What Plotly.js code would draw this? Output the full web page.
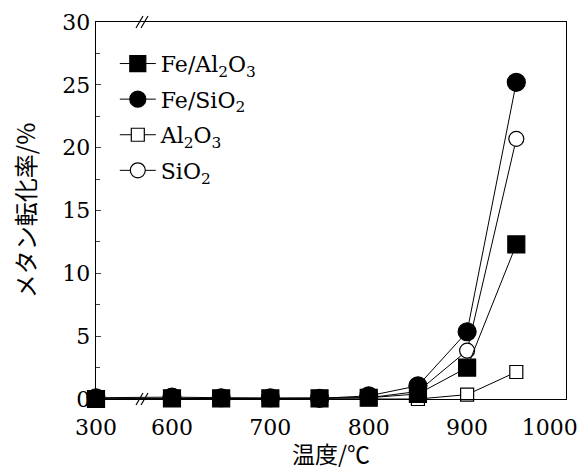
<!DOCTYPE html>
<html><head><meta charset="utf-8">
<script src="https://cdn.plot.ly/plotly-3.0.1.min.js"></script>
<style>body{margin:0;background:#fff}</style>
</head><body>
<div id="chart" style="width:584px;height:470px"></div>
<script>
// Temperatures (°C)
const temps = [300, 600, 650, 700, 750, 800, 850, 900, 950];
// Methane conversion (%)
const feAl2O3 = [0.0, 0.05, 0.05, 0.05, 0.05, 0.1, 0.4, 2.5, 12.3];
const feSiO2  = [0.1, 0.15, 0.1, 0.1, 0.05, 0.25, 1.05, 5.35, 25.2];
const al2O3   = [0.0, 0.0, 0.0, 0.0, 0.0, 0.0, 0.0, 0.35, 2.15];
const siO2    = [0.0, 0.05, 0.05, 0.05, 0.05, 0.1, 0.6, 3.85, 20.7];
const xTickLabels = ['300', '600', '700', '800', '900', '1000'];
const xTickTemps = [300, 600, 700, 800, 900, 1000];

// broken axis: 300 is drawn just left of 600
const BREAK_POS = 522.8;
function axisX(t) { return t === 300 ? BREAK_POS : t; }
const xs = temps.map(axisX);
const tickPos = xTickTemps.map(t => t === 1000 ? 984 : axisX(t));

const serif = 'DejaVu Serif, serif';
function tr(name, y, symbol, filled, size, rank) {
  return {
    x: xs, y: y, name: name, type: 'scatter', mode: 'lines+markers',
    cliponaxis: false, legendrank: rank, legendgroup: 'g' + rank,
    line: {color: '#000', width: 1},
    marker: {symbol: symbol, size: size, color: filled ? '#000' : '#fff',
             line: {color: '#000', width: 1.2}}
  };
}
const data = [
  tr('Al<sub>2</sub>O<sub>3</sub>', al2O3, 'square', false, 13, 3),
  tr('SiO<sub>2</sub>', siO2, 'circle', false, 15, 4),
  tr('Fe/Al<sub>2</sub>O<sub>3</sub>', feAl2O3, 'square', true, 17, 1),
  tr('Fe/SiO<sub>2</sub>', feSiO2, 'circle', true, 18, 2)
];

const bx = (142 - 96) / 470;
const dx = 3.5 / 470, dy = 6 / 377, gap = 5 / 470;
const shapes = [];
[0, 1].forEach(yy => {
  [-gap / 2, gap / 2].forEach(o => {
    shapes.push({type: 'line', xref: 'paper', yref: 'paper',
      x0: bx + o - dx, y0: yy - dy, x1: bx + o + dx, y1: yy + dy,
      line: {color: '#000', width: 1.2}});
  });
});

const layout = {
  width: 584, height: 470,
  margin: {l: 96, r: 18, t: 22, b: 71},
  paper_bgcolor: '#fff', plot_bgcolor: '#fff',
  font: {family: serif, size: 22, color: '#000'},
  showlegend: true,
  legend: {x: 0.04, y: 0.945, xanchor: 'left', yanchor: 'top', bgcolor: 'rgba(0,0,0,0)',
           font: {family: serif, size: 22}, tracegroupgap: 4, itemwidth: 36},
  xaxis: {range: [BREAK_POS, 1000.5], tickvals: tickPos, ticktext: xTickLabels,
          ticks: '', showgrid: false, zeroline: false, showline: true, mirror: true,
          linecolor: '#000', linewidth: 1.3, ticklabelstandoff: 8,
          tickfont: {family: serif, size: 22},
          title: {text: '温度/℃', font: {family: 'Noto Sans CJK JP', size: 23}, standoff: 2}},
  yaxis: {range: [0, 30], dtick: 5, ticks: 'inside', ticklen: 5, tickwidth: 1,
          minor: {dtick: 2.5, ticks: 'inside', ticklen: 4, tickwidth: 1},
          showgrid: false, zeroline: false, showline: true, mirror: true,
          linecolor: '#000', linewidth: 1.3,
          tickfont: {family: serif, size: 22},
          title: {text: 'メタン転化率/%', font: {family: 'Noto Sans CJK JP', size: 24}, standoff: 20}},
  shapes: shapes
};
Plotly.newPlot('chart', data, layout, {displayModeBar: false, staticPlot: true});
</script>
</body></html>
